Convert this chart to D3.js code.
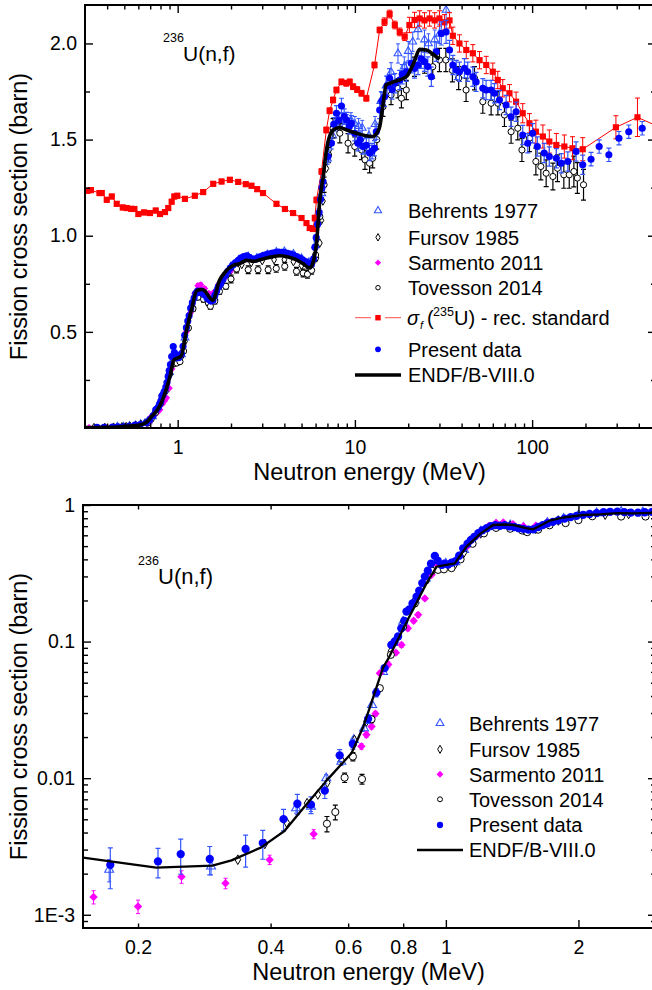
<!DOCTYPE html>
<html><head><meta charset="utf-8">
<script src="https://cdn.jsdelivr.net/npm/d3@7"></script>
<style>
body{margin:0;background:#fff;}
text{font-family: Arial, "Liberation Sans", Helvetica, sans-serif;}
</style></head><body><svg id="c" width="652" height="990"></svg>
<script>
// ---------------- DATA: [energy MeV, sigma barn, error barn] ----------------
const behrents = [[0.172,0.00214,0.0004],[0.293,0.00226,0.0003],[0.457,0.00604,0.0005],[0.494,0.0062,0.0005],[0.535,0.0100,0.0006],[0.579,0.0132,0.0008],[0.618,0.0191,0.001],[0.652,0.0232,0.0012],[0.680,0.0344,0.0015],[0.72,0.060,0.002],[0.76,0.098,0.003],[0.80,0.140,0.004],[0.85,0.20,0.005],[0.90,0.29,0.007],[0.95,0.36,0.008],[1.0,0.372,0.008],[1.05,0.382,0.008],[1.1,0.47,0.01],[1.2,0.64,0.01],[1.3,0.712,0.01],[1.4,0.71,0.01],[1.5,0.682,0.01],[1.6,0.68,0.01],[1.7,0.742,0.01],[1.85,0.792,0.01],[2.0,0.84,0.012],[2.2,0.872,0.012],[2.5,0.892,0.012],[2.8,0.884,0.012],[3.2,0.902,0.012],[3.6,0.915,0.012],[4.0,0.918,0.012],[4.5,0.905,0.012],[5.0,0.882,0.012],[5.5,0.862,0.012],[6.0,0.95,0.02],[6.5,1.22,0.03],[7.0,1.40,0.03],[7.5,1.52,0.03],[8.0,1.58,0.04],[8.5,1.60,0.04],[9.0,1.59,0.04],[9.5,1.60,0.04],[10.0,1.58,0.04],[10.5,1.57,0.04],[11.0,1.56,0.04],[12.0,1.52,0.04],[13.0,1.58,0.04],[14.0,1.70,0.05],[15.0,1.78,0.05],[16.0,1.85,0.05],[17.5,1.948,0.05],[19.0,1.88,0.05],[20.0,1.96,0.05],[21.2,2.009,0.05],[22.7,2.073,0.05],[24.7,2.02,0.05],[26.0,2.00,0.05],[28.2,2.02,0.05],[30.0,2.05,0.05],[32.7,2.174,0.05]];

const fursov = [[0.337,0.00253],[0.388,0.0033],[0.435,0.00474],[0.484,0.00656],[0.512,0.0076],[0.538,0.0093],[0.58,0.0135],[0.62,0.019],[0.66,0.026],[0.70,0.043],[0.75,0.085],[0.80,0.14],[0.85,0.20],[0.90,0.29],[0.95,0.35],[1.0,0.36],[1.05,0.37],[1.1,0.45],[1.2,0.62],[1.3,0.70],[1.4,0.70],[1.5,0.66],[1.6,0.67],[1.8,0.77],[2.0,0.82],[2.3,0.85],[2.6,0.86],[3.0,0.87],[3.5,0.875],[4.0,0.875],[4.5,0.865],[5.0,0.845],[5.5,0.83],[5.8,0.86],[6.07,0.884],[6.34,0.962],[6.47,1.08],[6.6,1.18],[6.9,1.35],[7.2,1.45]];

const sarmento = [[0.1585,0.00135,0.00015],[0.200,0.00115,0.00013],[0.251,0.0019,0.0002],[0.316,0.0017,0.00015],[0.398,0.00253,0.0002],[0.501,0.0039,0.0003],[0.643,0.0171,0.0008],[0.660,0.0208,0.001],[0.678,0.0239,0.001],[0.692,0.0296,0.0012],[0.708,0.0587,0.002],[0.74,0.068,0.003],[0.77,0.083,0.003],[0.793,0.0946,0.004],[0.82,0.125,0.005],[0.845,0.142,0.005],[0.865,0.157,0.006],[0.896,0.207,0.007],[0.928,0.308,0.008],[0.96,0.36,0.008],[0.99,0.372,0.008],[1.03,0.372,0.008],[1.07,0.40,0.01],[1.12,0.50,0.01],[1.18,0.60,0.01],[1.25,0.70,0.01],[1.30,0.74,0.01],[1.35,0.745,0.01],[1.42,0.725,0.01],[1.50,0.70,0.01],[1.60,0.705,0.01],[1.70,0.745,0.01],[1.85,0.785,0.01],[2.0,0.82,0.01]];

const tovesson = [[0.537,0.00464,0.0006],[0.561,0.00565,0.0007],[0.589,0.0101,0.0008],[0.615,0.0144,0.001],[0.645,0.00985,0.0008],[0.678,0.027,0.0015],[0.708,0.0456,0.002],[0.75,0.080,0.003],[0.80,0.128,0.004],[0.85,0.19,0.005],[0.90,0.28,0.006],[0.93,0.33,0.007],[0.96,0.335,0.008],[0.99,0.338,0.008],[1.03,0.345,0.008],[1.08,0.40,0.01],[1.15,0.52,0.01],[1.22,0.62,0.012],[1.30,0.68,0.012],[1.40,0.67,0.015],[1.49,0.651,0.015],[1.53,0.633,0.015],[1.62,0.66,0.015],[1.72,0.71,0.015],[1.87,0.737,0.015],[2.0,0.775,0.02],[2.15,0.827,0.02],[2.5,0.823,0.02],[2.84,0.823,0.02],[3.24,0.823,0.02],[3.6,0.83,0.02],[4.02,0.841,0.02],[4.68,0.815,0.02],[5.1,0.806,0.02],[5.4,0.80,0.02],[5.7,0.82,0.02],[6.0,0.90,0.03],[6.34,1.1,0.03],[6.7,1.265,0.04],[7.1,1.42,0.04],[7.53,1.559,0.05],[8.22,1.533,0.05],[9.15,1.481,0.05],[9.98,1.464,0.05],[10.9,1.446,0.05],[11.4,1.395,0.05],[12.1,1.377,0.05],[12.6,1.403,0.05],[13.3,1.50,0.05],[14.4,1.671,0.05],[16.0,1.732,0.05],[17.5,1.767,0.05],[18.3,1.715,0.05],[19.5,1.758,0.05],[21.7,1.879,0.05],[24.7,1.905,0.06],[27.5,1.879,0.06],[30,1.914,0.06],[32.6,1.914,0.06],[35.5,1.86,0.06],[38.5,1.82,0.06],[42.4,1.758,0.06],[47.3,1.819,0.06],[52.7,1.697,0.06],[58.7,1.689,0.06],[64.1,1.689,0.06],[69.8,1.628,0.06],[76.1,1.541,0.06],[83,1.559,0.06],[87.6,1.446,0.06],[96.6,1.507,0.07],[105,1.386,0.07],[112,1.36,0.07],[120,1.325,0.07],[131,1.308,0.07],[139,1.351,0.07],[151,1.317,0.07],[162,1.317,0.07],[172,1.334,0.08],[180,1.30,0.08],[195,1.265,0.08]];

const u235std = [[0.310,1.234,0.012],[0.324,1.237,0.012],[0.362,1.222,0.012],[0.373,1.222,0.012],[0.398,1.187,0.012],[0.425,1.204,0.012],[0.453,1.166,0.012],[0.490,1.147,0.012],[0.516,1.144,0.012],[0.546,1.140,0.012],[0.570,1.139,0.012],[0.600,1.113,0.012],[0.646,1.121,0.012],[0.698,1.118,0.012],[0.752,1.131,0.012],[0.795,1.113,0.012],[0.848,1.123,0.012],[0.885,1.144,0.012],[0.925,1.177,0.012],[0.957,1.204,0.012],[0.995,1.208,0.012],[1.099,1.192,0.012],[1.25,1.208,0.012],[1.393,1.227,0.012],[1.587,1.27,0.012],[1.769,1.282,0.012],[1.97,1.291,0.012],[2.195,1.28,0.012],[2.424,1.268,0.012],[2.61,1.26,0.012],[2.81,1.242,0.012],[3.03,1.222,0.012],[3.61,1.166,0.012],[4.03,1.139,0.012],[4.48,1.118,0.012],[5.0,1.092,0.012],[5.33,1.066,0.012],[5.56,1.04,0.012],[5.8,1.035,0.012],[5.94,1.092,0.015],[6.07,1.186,0.015],[6.48,1.334,0.015],[6.9,1.55,0.015],[7.2,1.65,0.015],[7.53,1.706,0.015],[7.87,1.758,0.015],[8.4,1.80,0.015],[8.95,1.793,0.015],[9.35,1.80,0.015],[9.77,1.775,0.015],[10.3,1.76,0.015],[10.9,1.741,0.015],[11.6,1.715,0.015],[12.9,1.888,0.015],[13.8,2.07,0.015],[14.7,2.113,0.02],[15.7,2.153,0.02],[16.8,2.096,0.02],[17.9,2.06,0.02],[19.1,2.035,0.02],[20.3,2.096,0.04],[21.7,2.122,0.04],[23.2,2.13,0.04],[24.7,2.12,0.04],[26.4,2.13,0.04],[28.2,2.12,0.04],[30.0,2.13,0.04],[32.0,2.11,0.04],[34.2,2.12,0.04],[35.7,2.04,0.045],[38.9,2.0,0.045],[42.5,1.966,0.045],[46.3,1.949,0.045],[50.5,1.913,0.045],[55.1,1.888,0.045],[60,1.853,0.045],[64,1.81,0.045],[68.3,1.767,0.045],[74.5,1.741,0.045],[81.2,1.697,0.05],[88.5,1.637,0.05],[96.6,1.585,0.05],[105,1.541,0.06],[115,1.516,0.06],[125,1.49,0.06],[137,1.472,0.06],[152,1.464,0.06],[169,1.455,0.06],[193,1.45,0.06],[297,1.564,0.06],[393,1.616,0.1],[600,1.54,0.1]];

const present = [[0.173,0.00232,0.00077],[0.222,0.00246,0.0006],[0.250,0.00278,0.0008],[0.291,0.00256,0.0006],[0.351,0.00303,0.0008],[0.384,0.00335,0.0008],[0.428,0.00501,0.0009],[0.460,0.0065,0.0011],[0.494,0.0064,0.0009],[0.531,0.0081,0.001],[0.574,0.0147,0.0015],[0.615,0.0178,0.0015],[0.666,0.0272,0.002],[0.695,0.0423,0.003],[0.726,0.0639,0.003],[0.752,0.0946,0.004],[0.765,0.100,0.004],[0.779,0.109,0.004],[0.792,0.125,0.005],[0.805,0.142,0.005],[0.814,0.166,0.005],[0.826,0.172,0.005],[0.840,0.190,0.005],[0.858,0.213,0.006],[0.870,0.236,0.006],[0.884,0.268,0.006],[0.896,0.299,0.007],[0.910,0.330,0.007],[0.925,0.372,0.008],[0.944,0.424,0.008],[0.958,0.392,0.008],[0.978,0.364,0.008],[0.993,0.372,0.008],[1.012,0.366,0.008],[1.030,0.378,0.008],[1.050,0.386,0.008],[1.072,0.425,0.009],[1.095,0.482,0.009],[1.120,0.522,0.01],[1.140,0.556,0.01],[1.160,0.584,0.01],[1.185,0.622,0.01],[1.210,0.652,0.01],[1.238,0.676,0.01],[1.265,0.700,0.01],[1.295,0.712,0.01],[1.327,0.705,0.01],[1.360,0.712,0.01],[1.395,0.698,0.01],[1.430,0.690,0.01],[1.465,0.676,0.01],[1.500,0.668,0.01],[1.540,0.660,0.01],[1.580,0.664,0.01],[1.620,0.690,0.01],[1.660,0.712,0.01],[1.700,0.735,0.01],[1.750,0.752,0.01],[1.800,0.772,0.01],[1.860,0.795,0.01],[1.920,0.815,0.01],[1.980,0.832,0.01],[2.050,0.848,0.01],[2.120,0.860,0.01],[2.200,0.872,0.01],[2.280,0.885,0.01],[2.360,0.892,0.01],[2.450,0.895,0.01],[2.540,0.888,0.01],[2.630,0.880,0.01],[2.730,0.878,0.01],[2.830,0.885,0.01],[2.940,0.892,0.01],[3.050,0.898,0.01],[3.170,0.902,0.01],[3.300,0.906,0.01],[3.430,0.910,0.01],[3.570,0.912,0.01],[3.710,0.915,0.01],[3.860,0.914,0.01],[4.010,0.912,0.01],[4.170,0.908,0.01],[4.340,0.905,0.01],[4.510,0.898,0.01],[4.690,0.892,0.01],[4.880,0.884,0.01],[5.070,0.875,0.01],[5.270,0.866,0.01],[5.480,0.858,0.01],[5.690,0.852,0.01],[5.850,0.880,0.012],[5.950,0.940,0.012],[6.050,0.990,0.015],[6.160,1.060,0.015],[6.280,1.120,0.02],[6.400,1.190,0.02],[6.520,1.250,0.02],[6.61,1.282,0.03],[7.05,1.412,0.03],[7.37,1.481,0.03],[7.6,1.58,0.035],[7.87,1.637,0.04],[8.1,1.60,0.04],[8.4,1.675,0.04],[8.7,1.62,0.04],[8.96,1.602,0.04],[9.3,1.57,0.04],[9.55,1.585,0.04],[9.98,1.533,0.04],[10.4,1.481,0.04],[10.7,1.50,0.04],[11.1,1.464,0.04],[11.6,1.47,0.04],[12.1,1.43,0.04],[12.5,1.44,0.04],[12.9,1.455,0.04],[13.2,1.541,0.04],[13.8,1.654,0.045],[14.2,1.70,0.045],[14.7,1.723,0.05],[15.2,1.78,0.05],[15.7,1.819,0.05],[16.2,1.76,0.05],[16.8,1.793,0.05],[17.9,1.81,0.05],[18.5,1.84,0.05],[19.5,1.853,0.05],[20.8,1.897,0.05],[21.7,1.87,0.05],[22.7,1.888,0.05],[23.7,1.92,0.05],[24.7,1.905,0.05],[25.8,1.88,0.05],[27,1.827,0.05],[28.8,1.957,0.05],[30.7,2.052,0.06],[32.7,2.06,0.06],[34.2,1.966,0.05],[35.7,1.888,0.05],[37.3,1.862,0.05],[38.9,1.853,0.05],[41.5,1.871,0.05],[43.3,1.853,0.05],[46.3,1.827,0.05],[48.3,1.80,0.05],[52.7,1.767,0.05],[55,1.758,0.05],[58.7,1.758,0.05],[61.3,1.741,0.05],[65.4,1.706,0.05],[71.3,1.680,0.05],[76.1,1.619,0.05],[81.2,1.645,0.05],[88.5,1.524,0.05],[94.5,1.481,0.05],[100.6,1.533,0.05],[107,1.464,0.05],[117,1.43,0.05],[125,1.412,0.05],[137,1.403,0.05],[146,1.377,0.05],[159,1.386,0.05],[177,1.438,0.05],[193,1.369,0.05],[215,1.398,0.035],[239,1.464,0.035],[271,1.421,0.035],[309,1.507,0.035],[351,1.541,0.035],[418,1.559,0.035]];

const endf = [[0.15,0.00262],[0.22,0.00221],[0.295,0.00229],[0.326,0.0025],[0.38,0.0031],[0.43,0.0041],[0.478,0.0062],[0.539,0.0098],[0.611,0.0153],[0.65,0.024],[0.68,0.037],[0.72,0.0645],[0.739,0.0743],[0.82,0.145],[0.904,0.267],[0.953,0.354],[1.048,0.374],[1.114,0.495],[1.2,0.62],[1.28,0.714],[1.365,0.72],[1.42,0.714],[1.52,0.677],[1.58,0.664],[1.72,0.767],[1.85,0.81],[2.05,0.845],[2.24,0.855],[2.45,0.872],[2.67,0.867],[3.0,0.878],[3.4,0.89],[3.77,0.896],[4.2,0.89],[4.68,0.875],[5.1,0.855],[5.56,0.832],[5.8,0.86],[6.07,0.96],[6.34,1.186],[6.61,1.3],[6.91,1.446],[7.53,1.55],[8.22,1.562],[9.0,1.55],[10.2,1.533],[11.5,1.52],[12.6,1.516],[13.2,1.53],[13.8,1.567],[14.4,1.68],[15.0,1.784],[16.5,1.80],[19.5,1.827],[21.5,1.90],[23.2,1.969],[25.3,1.966],[28,1.94],[30,1.917]];

// tick values / labels
const topXMajor = [1, 10, 100];
const topXLabels = ["1", "10", "100"];
const topXMinor = [0.4,0.5,0.6,0.7,0.8,0.9,2,3,4,5,6,7,8,9,20,30,40,50,60,70,80,90,200,300,400];
const topYMajor = [0.5, 1.0, 1.5, 2.0];
const topYLabels = ["0.5", "1.0", "1.5", "2.0"];
const topYMinor = [0.25, 0.75, 1.25, 1.75];
const botXLabelVals = [0.2, 0.4, 0.6, 0.8, 1, 2];
const botXLabels = ["0.2", "0.4", "0.6", "0.8", "1", "2"];
const botXMajor = [1, 2];
const botXMinor = [0.2, 0.4, 0.6, 0.8];
const botYMajor = [0.001, 0.01, 0.1, 1];
const botYLabels = ["1E-3", "0.01", "0.1", "1"];
const botYMinor = [0.0009,0.002,0.003,0.004,0.005,0.006,0.007,0.008,0.009,0.02,0.03,0.04,0.05,0.06,0.07,0.08,0.09,0.2,0.3,0.4,0.5,0.6,0.7,0.8,0.9];

const legendTop = ["Behrents 1977", "Fursov 1985", "Sarmento 2011", "Tovesson 2014", "std", "Present data", "ENDF/B-VIII.0"];
const legendBot = ["Behrents 1977", "Fursov 1985", "Sarmento 2011", "Tovesson 2014", "Present data", "ENDF/B-VIII.0"];

// ---------------- DRAW ----------------
const svg = d3.select("#c");
svg.append("rect").attr("width", 652).attr("height", 990).attr("fill", "#fff");

const BLUE = "#0000ff", EBLUE = "#3355ff", MAG = "#ff00ff", RED = "#ff0000";

function drawPanel(p) {
  const x = d3.scaleLog().domain(p.xDomain).range([p.left, p.right]);
  const y = (p.yLog ? d3.scaleLog() : d3.scaleLinear()).domain(p.yDomain).range([p.bottom, p.top]);
  const clipId = "clip" + p.id;
  svg.append("clipPath").attr("id", clipId).append("rect")
    .attr("x", p.left).attr("y", p.top).attr("width", p.right - p.left).attr("height", p.bottom - p.top);
  const plot = svg.append("g").attr("clip-path", `url(#${clipId})`);
  const ymin = p.yDomain[0] * 0.3;

  function errBars(data, color, cap, sw) {
    plot.append("g").selectAll("path").data(data.filter(d => d[2])).join("path")
      .attr("d", d => {
        const xx = x(d[0]);
        const y1 = y(Math.max(d[1] - d[2], ymin)), y2 = y(d[1] + d[2]);
        return `M${xx - cap},${y1}H${xx + cap}M${xx},${y1}V${y2}M${xx - cap},${y2}H${xx + cap}`;
      })
      .attr("fill", "none").attr("stroke", color).attr("stroke-width", sw);
  }
  function markers(data, type, size, fill, stroke, sw, rot) {
    const sym = d3.symbol().type(type).size(size);
    plot.append("g").selectAll("path").data(data).join("path")
      .attr("transform", d => `translate(${x(d[0])},${y(d[1])})` + (rot ? ` rotate(${rot})` : ""))
      .attr("d", sym).attr("fill", fill).attr("stroke", stroke).attr("stroke-width", sw);
  }
  const s = p.symScale;
  // Behrents
  errBars(behrents, EBLUE, 2, 1);
  markers(behrents, d3.symbolTriangle, 26 * s, "none", EBLUE, 1.1);
  // Fursov
  markers(fursov, d3.symbolDiamond, 20 * s, "#fff", "#000", 1);
  // Sarmento
  errBars(sarmento, MAG, 2, 1);
  markers(sarmento, d3.symbolSquare, 26 * s, MAG, "none", 0, 45);
  // Tovesson
  errBars(tovesson, "#000", 2.5, 1.2);
  markers(tovesson, d3.symbolCircle, 30 * s, "#fff", "#000", 1);
  // 235U standard
  if (p.showStd) {
    errBars(u235std, RED, 2.5, 1);
    plot.append("path").datum(u235std)
      .attr("d", d3.line().x(d => x(d[0])).y(d => y(d[1])))
      .attr("fill", "none").attr("stroke", RED).attr("stroke-width", 1);
    markers(u235std, d3.symbolSquare, 38, RED, "none", 0);
  }
  // Present data
  errBars(present, EBLUE, 2.5, 1.2);
  markers(present, d3.symbolCircle, 40 * s, BLUE, "none", 0);
  // ENDF
  plot.append("path").datum(endf)
    .attr("d", d3.line().x(d => x(d[0])).y(d => y(d[1])).curve(p.yLog ? d3.curveLinear : d3.curveMonotoneX))
    .attr("fill", "none").attr("stroke", "#000").attr("stroke-width", p.endfW).attr("stroke-linejoin", "round");

  // axes
  const ax = svg.append("g");
  function tickAxis(fn, scale, vals, len, tr) {
    const g = ax.append("g").attr("transform", tr)
      .call(fn(scale).tickValues(vals).tickSizeInner(-len).tickSizeOuter(0).tickFormat(""));
    g.select(".domain").remove();
    g.selectAll("line").attr("stroke", "#000").attr("stroke-width", 1.4);
  }
  function labelAxis(fn, scale, vals, labels, pad, tr) {
    const g = ax.append("g").attr("transform", tr)
      .call(fn(scale).tickValues(vals).tickSize(0).tickPadding(pad).tickFormat((d, i) => labels[i]));
    g.select(".domain").remove();
    g.selectAll("text").attr("font-size", p.tickFont).attr("fill", "#000")
      .attr("font-family", "Arial, 'Liberation Sans', sans-serif");
  }
  const B = `translate(0,${p.bottom})`, T = `translate(0,${p.top})`, L = `translate(${p.left},0)`, R = `translate(${p.right},0)`;
  tickAxis(d3.axisBottom, x, p.xMajor, 8, B); tickAxis(d3.axisTop, x, p.xMajor, 8, T);
  tickAxis(d3.axisBottom, x, p.xMinor, 4.5, B); tickAxis(d3.axisTop, x, p.xMinor, 4.5, T);
  tickAxis(d3.axisLeft, y, p.yMajor, 8, L); tickAxis(d3.axisRight, y, p.yMajor, 8, R);
  tickAxis(d3.axisLeft, y, p.yMinor, 5, L); tickAxis(d3.axisRight, y, p.yMinor, 5, R);
  labelAxis(d3.axisBottom, x, p.xLabelVals, p.xLabels, 12, B);
  labelAxis(d3.axisLeft, y, p.yMajor, p.yLabels, 8, L);
  ax.append("rect").attr("x", p.left).attr("y", p.top).attr("width", p.right - p.left).attr("height", p.bottom - p.top)
    .attr("fill", "none").attr("stroke", "#000").attr("stroke-width", 2);

  // axis titles
  svg.append("text").attr("x", (p.left + p.right) / 2 - 1).attr("y", p.bottom + 52)
    .attr("text-anchor", "middle").attr("font-size", 23.5).text("Neutron energy (MeV)");
  svg.append("text").attr("transform", `translate(27,${(p.top + p.bottom) / 2}) rotate(-90)`)
    .attr("text-anchor", "middle").attr("font-size", 23.5).text("Fission cross section (barn)");

  // annotation
  svg.append("text").attr("x", p.ann[0]).attr("y", p.ann[1] - 19).attr("font-size", 12.5).text("236");
  svg.append("text").attr("x", p.ann[0] + 20).attr("y", p.ann[1]).attr("font-size", p.annFont).text("U(n,f)");
  return {x, y};
}

drawPanel({id: "top", left: 85, right: 656, top: 5, bottom: 428, xDomain: [0.3, 500], yDomain: [0, 2.2], yLog: false,
  xMajor: topXMajor, xMinor: topXMinor, xLabelVals: topXMajor, xLabels: topXLabels,
  yMajor: topYMajor, yMinor: topYMinor, yLabels: topYLabels, tickFont: 19.5,
  symScale: 1, endfW: 3.6, showStd: true, ann: [163, 61], annFont: 21});

drawPanel({id: "bot", left: 83, right: 656, top: 505, bottom: 928, xDomain: [0.15, 3], yDomain: [0.0008, 1], yLog: true,
  xMajor: botXMajor, xMinor: botXMinor, xLabelVals: botXLabelVals, xLabels: botXLabels,
  yMajor: botYMajor, yMinor: botYMinor, yLabels: botYLabels, tickFont: 19.5,
  symScale: 1.35, endfW: 2.3, showStd: false, ann: [138, 584], annFont: 22});

// ---------------- LEGENDS ----------------
function legend(items, x0, tx, rows, big) {
  const g = svg.append("g");
  const sz = big ? 1 : 1.2;
  items.forEach((name, i) => {
    const cy = rows[i];
    const t = d => `translate(${x0},${cy})`;
    if (name === "Behrents 1977") {
      g.append("path").attr("transform", t()).attr("d", d3.symbol().type(d3.symbolTriangle).size(22 * sz)).attr("fill", "none").attr("stroke", EBLUE).attr("stroke-width", 1.1);
    } else if (name === "Fursov 1985") {
      g.append("path").attr("transform", t()).attr("d", d3.symbol().type(d3.symbolDiamond).size(16 * sz)).attr("fill", "#fff").attr("stroke", "#000").attr("stroke-width", 1);
    } else if (name === "Sarmento 2011") {
      g.append("path").attr("transform", t() + " rotate(45)").attr("d", d3.symbol().type(d3.symbolSquare).size(20 * sz)).attr("fill", MAG);
    } else if (name === "Tovesson 2014") {
      g.append("path").attr("transform", t()).attr("d", d3.symbol().type(d3.symbolCircle).size(16 * sz)).attr("fill", "#fff").attr("stroke", "#000").attr("stroke-width", 1);
    } else if (name === "Present data") {
      g.append("path").attr("transform", t()).attr("d", d3.symbol().type(d3.symbolCircle).size(26 * sz)).attr("fill", BLUE);
    } else if (name === "std") {
      g.append("line").attr("x1", x0 - 23).attr("x2", x0 + 23).attr("y1", cy).attr("y2", cy).attr("stroke", "#ff7070").attr("stroke-width", 1.2).attr("stroke-dasharray", "16,14");
      g.append("path").attr("transform", t()).attr("d", d3.symbol().type(d3.symbolSquare).size(30)).attr("fill", RED);
    } else if (name === "ENDF/B-VIII.0") {
      g.append("line").attr("x1", x0 - 23).attr("x2", x0 + 23).attr("y1", cy).attr("y2", cy).attr("stroke", "#000").attr("stroke-width", big ? 3.6 : 2.3);
    }
    if (name === "std") {
      const yb = cy + 7.5;
      g.append("text").attr("x", tx - 1).attr("y", yb).attr("font-size", 20).attr("font-style", "italic").attr("font-family", "'DejaVu Serif', serif").text("σ");
      g.append("text").attr("x", tx + 12).attr("y", yb + 4).attr("font-size", 11).attr("font-style", "italic").text("f");
      g.append("text").attr("x", tx + 19).attr("y", yb).attr("font-size", 20).text("(");
      g.append("text").attr("x", tx + 25).attr("y", yb - 9).attr("font-size", 12.5).text("235");
      g.append("text").attr("x", tx + 46).attr("y", yb).attr("font-size", 20).text("U) - rec. standard");
    } else {
      g.append("text").attr("x", tx).attr("y", cy + 7.3).attr("font-size", 20).text(name);
    }
  });
}
legend(legendTop, 378, 408, [210.7, 237.3, 262.7, 287.7, 317.7, 349.3, 375], true);
legend(legendBot, 440, 469, [723.3, 749.3, 774.3, 799.3, 825, 850], false);
</script></body></html>
